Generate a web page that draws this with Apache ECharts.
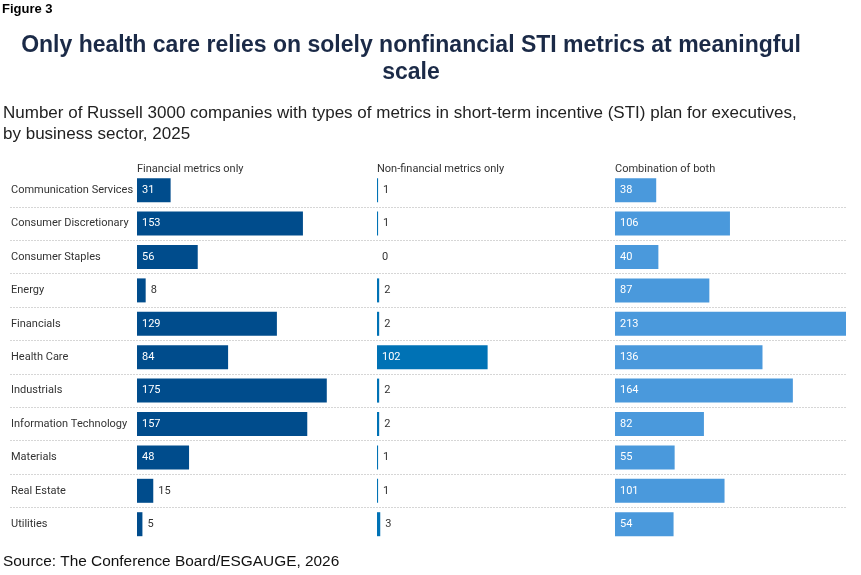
<!DOCTYPE html>
<html>
<head>
<meta charset="utf-8">
<script src="https://cdn.jsdelivr.net/npm/echarts@6/dist/echarts.min.js"></script>
<style>
  html, body { margin: 0; padding: 0; background: #fff; }
  #chart { width: 861px; height: 575px; }
</style>
</head>
<body>
<div id="chart"></div>
<script>
// sectors, top to bottom
const sectors = [
  'Communication Services', 'Consumer Discretionary', 'Consumer Staples', 'Energy',
  'Financials', 'Health Care', 'Industrials', 'Information Technology',
  'Materials', 'Real Estate', 'Utilities'
]
const panelNames = ['Financial metrics only', 'Non-financial metrics only', 'Combination of both']
const financialOnly = [31, 153, 56, 8, 129, 84, 175, 157, 48, 15, 5]
const nonFinancialOnly = [1, 1, 0, 2, 2, 102, 2, 2, 1, 1, 3]
const combination = [38, 106, 40, 87, 213, 136, 164, 82, 55, 101, 54]

const colors = ['#004c8c', '#0072b5', '#4a99dc']
const panelLeft = [137, 377, 615]
const panelWidth = 231
const axisMax = 213
const gridTop = 173.5
const gridHeight = 367.4
const font = 'Roboto, "Liberation Sans", Arial, sans-serif'

const chart = echarts.init(document.getElementById('chart'))

// bars too short to hold their number get it outside, in grey
function labelled(values) {
  return values.map(v => v >= 20
    ? { value: v, label: { position: 'insideLeft', color: '#fff', distance: 5 } }
    : { value: v, label: { position: 'right', color: '#333', distance: 5 } })
}

const grids = [{ left: 10, width: 837, top: gridTop, height: gridHeight }]
const xAxes = [{ gridIndex: 0, type: 'value', show: false, max: axisMax }]
const yAxes = [{
  gridIndex: 0, type: 'category', data: sectors, inverse: true,
  axisLine: { show: false }, axisTick: { show: false }, axisLabel: { show: false },
  splitLine: { show: true, showMinLine: false, showMaxLine: false,
    lineStyle: { color: '#d6d6d6', type: [2, 1], width: 1 } }
}]
const series = []

;[financialOnly, nonFinancialOnly, combination].forEach((vals, i) => {
  const g = i + 1
  grids.push({ left: panelLeft[i], width: panelWidth, top: gridTop, height: gridHeight })
  xAxes.push({ gridIndex: g, type: 'value', min: 0, max: axisMax, show: false })
  yAxes.push({
    gridIndex: g, type: 'category', data: sectors, inverse: true,
    axisLine: { show: false }, axisTick: { show: false }, splitLine: { show: false },
    axisLabel: i === 0
      ? { show: true, align: 'left', margin: 126, color: '#333', fontSize: 11, fontFamily: font }
      : { show: false }
  })
  series.push({
    type: 'bar', xAxisIndex: g, yAxisIndex: g,
    data: labelled(vals), barWidth: 24,
    itemStyle: { color: colors[i] },
    label: { show: true, fontSize: 11, fontFamily: font },
    silent: true, animation: false
  })
})

const headers = panelNames.map((name, i) => ({
  type: 'text', left: panelLeft[i], top: 163.5,
  style: { text: name, fill: '#333', font: '11px ' + font }
}))

chart.setOption({
  animation: false,
  grid: grids, xAxis: xAxes, yAxis: yAxes, series,
  graphic: [
    { type: 'text', left: 2, top: 3,
      style: { text: 'Figure 3', fill: '#000', font: 'bold 13px "Liberation Sans", Arial, sans-serif' } },
    { type: 'text', x: 411, y: 32,
      style: { text: 'Only health care relies on solely nonfinancial STI metrics at meaningful\nscale',
        fill: '#1b2a47', font: 'bold 23px "Liberation Sans", Arial, sans-serif',
        align: 'center', lineHeight: 27 } },
    { type: 'text', left: 3, top: 103,
      style: { text: 'Number of Russell 3000 companies with types of metrics in short-term incentive (STI) plan for executives,\nby business sector, 2025',
        fill: '#222', font: '17px "Liberation Sans", Arial, sans-serif', lineHeight: 21 } },
    { type: 'text', left: 3, top: 554,
      style: { text: 'Source: The Conference Board/ESGAUGE, 2026',
        fill: '#111', font: '15.4px "Liberation Sans", Arial, sans-serif' } },
    ...headers
  ]
})
</script>
</body>
</html>
